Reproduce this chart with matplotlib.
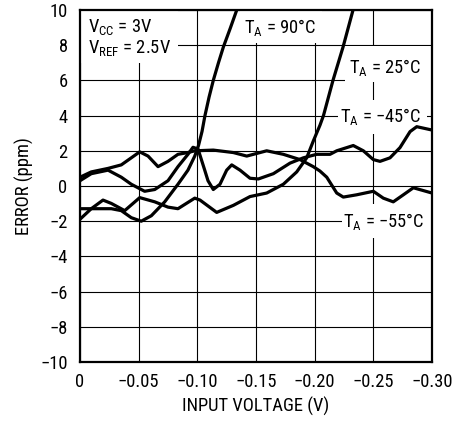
import matplotlib
matplotlib.use('Agg')
import matplotlib.pyplot as plt
from matplotlib import font_manager as fm
from matplotlib.patches import Rectangle


def pick(fams):
    for f in fams:
        try:
            fm.findfont(f, fallback_to_default=False)
            return f
        except Exception:
            pass
    return 'DejaVu Sans'


FONT = pick(['Liberation Sans Narrow', 'Roboto Condensed', 'Liberation Sans'])
plt.rcParams['font.family'] = [FONT, 'DejaVu Sans']
plt.rcParams['mathtext.default'] = 'regular'

# ---------------- data (input voltage in V, error in ppm) ----------------
v_90 = [0, -0.0267, -0.0352, -0.0437, -0.0522, -0.0608, -0.0722, -0.0835, -0.092,
        -0.0978, -0.1010, -0.1040, -0.1065, -0.1100, -0.1136, -0.1180, -0.1222,
        -0.1280, -0.1336]
e_90 = [-1.29, -1.29, -1.40, -1.80, -2.00, -1.69, -0.90, 0.10, 0.90,
        1.70, 2.30, 3.10, 4.00, 5.05, 6.00, 7.00, 7.90,
        8.95, 10.0]

v_25 = [0, -0.0096, -0.0196, -0.0267, -0.0381, -0.0509, -0.0637, -0.075, -0.0835,
        -0.0978, -0.1023, -0.1165, -0.1307, -0.1449, -0.1591, -0.1733, -0.1847,
        -0.1932, -0.1988, -0.2045, -0.2075, -0.2156, -0.2242, -0.2327]
e_25 = [-1.89, -1.29, -0.80, -0.99, -1.40, -0.66, -0.90, -1.20, -1.29,
        -0.69, -0.80, -1.50, -1.10, -0.60, -0.40, 0.10, 0.80,
        1.60, 2.55, 3.45, 4.00, 6.00, 7.90, 10.0]

v_m45 = [0, -0.0096, -0.0239, -0.0352, -0.0437, -0.0551, -0.0637, -0.075, -0.0835,
         -0.092, -0.0963, -0.1006, -0.1063, -0.1091, -0.1136, -0.1193, -0.125,
         -0.1293, -0.1364, -0.1449, -0.152, -0.1648, -0.179, -0.1903, -0.2017,
         -0.2131, -0.2188, -0.2329, -0.2415, -0.25, -0.2557, -0.2642, -0.2727,
         -0.2813, -0.287, -0.30]
e_m45 = [0.30, 0.70, 0.90, 0.50, 0.10, -0.30, -0.20, 0.30, 1.10,
         1.80, 2.20, 2.10, 0.90, 0.30, -0.20, 0.10, 0.90,
         1.20, 0.90, 0.44, 0.40, 0.70, 1.30, 1.60, 1.80,
         1.80, 2.00, 2.30, 2.00, 1.50, 1.40, 1.60, 2.18,
         3.09, 3.37, 3.18]

v_m55 = [0, -0.0096, -0.0239, -0.0352, -0.0437, -0.0509, -0.058, -0.0665, -0.075,
         -0.0835, -0.092, -0.0978, -0.1136, -0.1307, -0.1421, -0.1591, -0.1733,
         -0.1875, -0.1988, -0.2045, -0.2103, -0.2188, -0.2244, -0.2358, -0.25,
         -0.2585, -0.267, -0.2756, -0.2841, -0.30]
e_m55 = [0.50, 0.80, 1.00, 1.20, 1.60, 1.94, 1.70, 1.10, 1.40,
         1.80, 1.90, 2.00, 2.04, 1.90, 1.70, 2.00, 1.80,
         1.50, 1.10, 0.85, 0.50, -0.40, -0.63, -0.50, -0.30,
         -0.69, -0.90, -0.50, -0.10, -0.40]

x_ticks = [0, -0.05, -0.10, -0.15, -0.20, -0.25, -0.30]
x_tick_labels = ['0', '\u22120.05', '\u22120.10', '\u22120.15', '\u22120.20', '\u22120.25', '\u22120.30']
y_ticks = [-10, -8, -6, -4, -2, 0, 2, 4, 6, 8, 10]
y_tick_labels = ['\u221210', '\u22128', '\u22126', '\u22124', '\u22122', '0', '2', '4', '6', '8', '10']

# ---------------- figure ----------------
W, H = 470, 423
fig = plt.figure(figsize=(W / 100, H / 100), dpi=100)
L, R, T, B = 80, 432, 10, 362
ax = fig.add_axes([L / W, 1 - B / H, (R - L) / W, (B - T) / H])
ax.set_xlim(0, -0.30)
ax.set_ylim(-10, 10)

ax.set_xticks(x_ticks)
ax.set_xticklabels(x_tick_labels)
ax.set_yticks(y_ticks)
ax.set_yticklabels(y_tick_labels)
ax.tick_params(length=0, labelsize=13.3, pad=8)
ax.tick_params(axis='y', pad=9)
ax.grid(True, color='black', lw=0.8)
ax.set_axisbelow(True)
for s in ax.spines.values():
    s.set_linewidth(1.6)
    s.set_zorder(6)

# white boxes behind labels
boxes = [
    (0, 10, -0.0835, 7.0),        # VCC / VREF
    (-0.1364, 10, -0.2063, 8.12),  # 90C
    (-0.2260, 7.95, -0.30, 5.9),   # 25C
    (-0.2200, 4.9, -0.2960, 2.95),  # -45C
    (-0.2230, -1.05, -0.2990, -2.95),  # -55C
]
for x0, y0, x1, y1 in boxes:
    ax.add_patch(Rectangle((x0, y1), x1 - x0, y0 - y1, facecolor='white',
                           edgecolor='none', zorder=1.5))

kw = dict(color='black', lw=2.3, solid_joinstyle='round', solid_capstyle='round',
          zorder=3, clip_on=True)
ax.plot(v_90, e_90, **kw)
ax.plot(v_25, e_25, **kw)
ax.plot(v_m45, e_m45, **kw)
ax.plot(v_m55, e_m55, **kw)

fs = 13.3
ax.text(-0.0068, 9.05, 'V$_{CC}$ = 3V', fontsize=fs, ha='left', va='center', zorder=4)
ax.text(-0.0068, 7.85, 'V$_{REF}$ = 2.5V', fontsize=fs, ha='left', va='center', zorder=4)
ax.text(-0.1398, 9.0, 'T$_{A}$ = 90°C', fontsize=fs, ha='left', va='center', zorder=4)
ax.text(-0.2290, 6.75, 'T$_{A}$ = 25°C', fontsize=fs, ha='left', va='center', zorder=4)
ax.text(-0.2215, 3.95, 'T$_{A}$ = \u221245°C', fontsize=fs, ha='left', va='center', zorder=4)
ax.text(-0.2245, -2.0, 'T$_{A}$ = \u221255°C', fontsize=fs, ha='left', va='center', zorder=4)

fig.text(256 / W, 1 - 406 / H, 'INPUT VOLTAGE (V)', fontsize=fs, ha='center', va='center')
fig.text(24 / W, 1 - 186 / H, 'ERROR (ppm)', fontsize=fs, ha='center', va='center',
         rotation=90)

fig.savefig('out.png', dpi=100, facecolor='white')
